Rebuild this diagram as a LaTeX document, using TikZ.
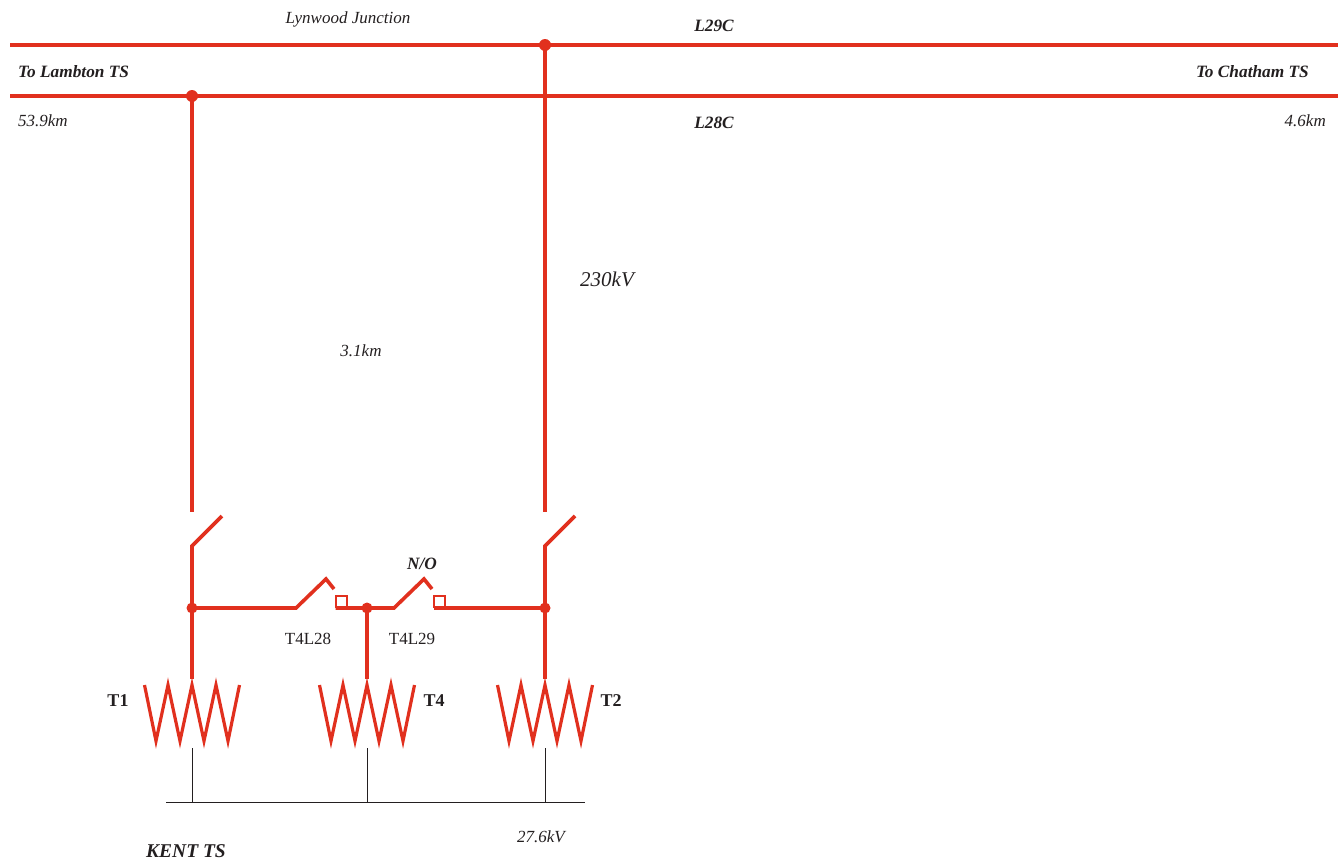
\documentclass[tikz,border=0pt]{standalone}
\usepackage{fontspec}
\setmainfont{Liberation Serif}
\definecolor{linered}{HTML}{E1301E}
\definecolor{inkdark}{HTML}{231F20}

\begin{document}
\begin{tikzpicture}[x=1pt, y=-1pt,
  line/.style = {linered, line width=4pt},
  feeder/.style = {linered, line width=3.6pt},
  blade/.style = {linered, line width=3.6pt, line join=miter},
  coil/.style = {linered, line width=3.2pt, line join=miter, miter limit=20},
  lowside/.style = {inkdark, line width=1pt},
  junction/.style = {circle, fill=linered, inner sep=0pt, outer sep=0pt, minimum size=#1},
  junction/.default = 11pt,
  gap/.style = {draw=linered, fill=white, line width=1.8pt, inner sep=0pt, outer sep=0pt, minimum size=10.5pt},
  lbl/.style = {inkdark, font=\fontsize{17}{20}\selectfont, inner sep=0pt},
  ilbl/.style = {lbl, font=\fontsize{17}{20}\selectfont\itshape},
  blbl/.style = {lbl, font=\fontsize{18}{20}\selectfont\bfseries},
  bilbl/.style = {lbl, font=\fontsize{17.3}{20}\selectfont\bfseries\itshape},
  ]
  \useasboundingbox (0,0) rectangle (1338,862);

  % incoming lines
  \coordinate (l29w) at (10,45);
  \coordinate (l29e) at (1338,45);
  \coordinate (l28w) at (10,96);
  \coordinate (l28e) at (1338,96);
  \draw[line] (l29w) -- (l29e);
  \draw[line] (l28w) -- (l28e);
  \node[junction=12pt] (j29) at (545,45) {};
  \node[junction=12pt] (j28) at (192,96) {};

  % tie bus
  \node[junction] (tieA) at (192,608) {};
  \node[junction] (tieB) at (367,608) {};
  \node[junction] (tieC) at (545,608) {};
  \coordinate (gapAw) at (335.5,608);
  \coordinate (gapBw) at (433.5,608);

  % line disconnects
  \coordinate (endA) at (192,512);
  \coordinate (endC) at (545,512);
  \coordinate (hingeA) at (192,546);
  \coordinate (hingeC) at (545,546);
  \coordinate (tipA) at (222,516);
  \coordinate (tipC) at (575,516);
  \draw[feeder] (j28.center) -- (endA);
  \draw[feeder] (j29.center) -- (endC);
  \draw[blade] (tieA.center) -- (hingeA) -- (tipA);
  \draw[blade] (tieC.center) -- (hingeC) -- (tipC);

  % breakers T4L28 and T4L29
  \coordinate (hingeL) at (296,608);
  \coordinate (kneeL) at (326,579);
  \coordinate (hookL) at (334,589);
  \coordinate (hingeR) at (394,608);
  \coordinate (kneeR) at (424,579);
  \coordinate (hookR) at (432,589);
  \draw[blade] (tieA.center) -- (hingeL) -- (kneeL) -- (hookL);
  \draw[blade] (gapAw) -- (tieB.center) -- (hingeR) -- (kneeR) -- (hookR);
  \draw[blade] (gapBw) -- (tieC.center);
  \node[gap] (gapA) at (341.5,601.5) {};
  \node[gap] (gapB) at (439.5,601.5) {};

  % transformers and low voltage bus
  \coordinate (lvw) at (166,802);
  \coordinate (lve) at (585,802);
  \draw[lowside] (lvw) -- (lve);
  \foreach \name/\cx/\from in {T1/192/tieA, T4/367/tieB, T2/545/tieC} {
    \coordinate (\name stub) at (\cx,679);
    \coordinate (\name top) at (\cx,685);
    \coordinate (\name low) at (\cx,748);
    \coordinate (\name bus) at (\cx,802);
    \draw[feeder] (\from.center) -- (\name stub);
    \draw[coil] (\cx-47.5,685) -- (\cx-36,741) -- (\cx-24,685) -- (\cx-12,741)
      -- (\name top) -- (\cx+12,741) -- (\cx+24,685) -- (\cx+36,741) -- (\cx+47.5,685);
    \draw[lowside] (\name low) -- (\name bus);
  }

  \node[ilbl] (lynwood) at (348,19) {Lynwood Junction};
  \node[bilbl] (l29c) at (714,26) {L29C};
  \node[bilbl] (l28c) at (714,123) {L28C};
  \node[bilbl, anchor=west] (lambton) at (18,72) {To Lambton TS};
  \node[bilbl, anchor=east] (chatham) at (1309,72) {To Chatham TS};
  \node[ilbl, anchor=west] (kmw) at (18,121) {53.9km};
  \node[ilbl, anchor=east] (kme) at (1326,121) {4.6km};
  \node[ilbl, font=\fontsize{21}{24}\selectfont\itshape] (hv) at (607,279) {230kV};
  \node[ilbl] (kmtap) at (361,351) {3.1km};
  \node[bilbl] (no) at (422,564) {N/O};
  \node[lbl] (brkL) at (308,639) {T4L28};
  \node[lbl] (brkR) at (412,639) {T4L29};
  \node[blbl] (t1) at (118,701) {T1};
  \node[blbl] (t4) at (434,701) {T4};
  \node[blbl] (t2) at (611,701) {T2};
  \node[bilbl, font=\fontsize{19.5}{22}\selectfont\bfseries\itshape] (kent) at (186,851) {KENT TS};
  \node[ilbl] (lv) at (541,837) {27.6kV};
\end{tikzpicture}
\end{document}
